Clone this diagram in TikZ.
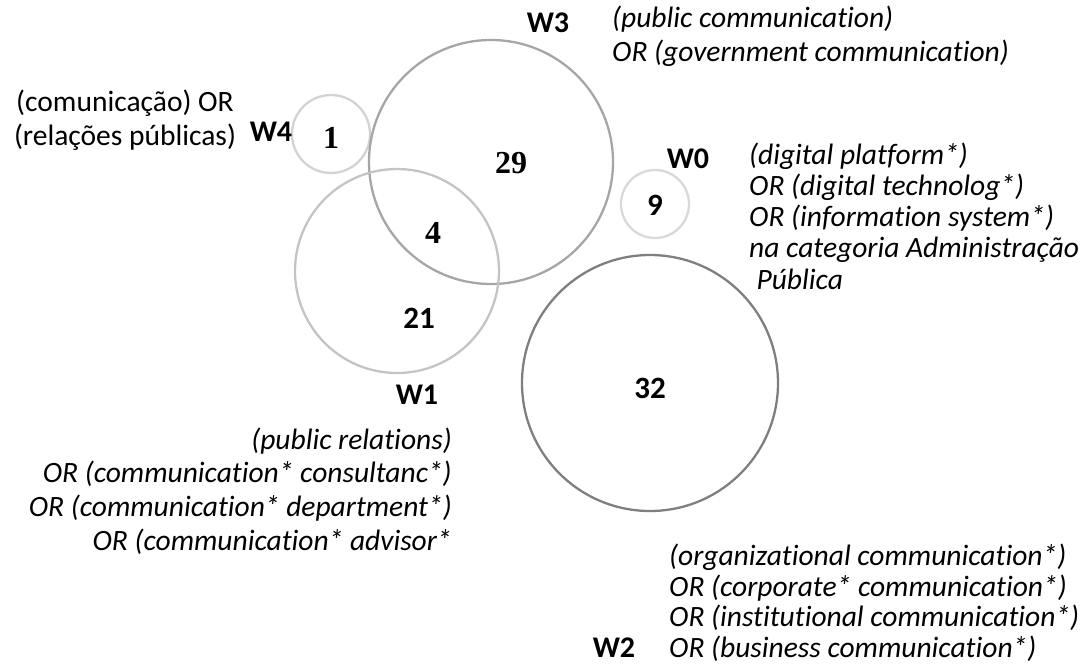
\documentclass[tikz,border=0pt]{standalone}
\usepackage{fontspec}
\setmainfont{Carlito}[Ligatures=NoCommon]
\newfontfamily\numserif{Liberation Serif}
\begin{document}
\begin{tikzpicture}[x=1pt,y=-1pt,
  ring/.style={circle,draw,line width=2.3pt,inner sep=0pt,minimum size=#1},
  wlabel/.style={anchor=base,inner sep=0pt,font=\bfseries\fontsize{30}{34}\selectfont},
  numC/.style={anchor=base,inner sep=0pt,font=\bfseries\fontsize{31}{34}\selectfont},
  numT/.style={anchor=base,inner sep=0pt,font=\numserif\bfseries\fontsize{32}{34}\selectfont},
  query/.style={inner sep=0pt,font=\itshape\fontsize{29.5}{#1}\selectfont},
]
\useasboundingbox (0,0) rectangle (1087,665);
\definecolor{g4}{HTML}{D3D3D3}
\definecolor{g3}{HTML}{A6A6A6}
\definecolor{g1}{HTML}{C4C4C4}
\definecolor{g0}{HTML}{D9D9D9}
\definecolor{g2}{HTML}{7F7F7F}
% circles
\node[ring=78pt,draw=g4] (c4) at (331,134) {};
\node[ring=244pt,draw=g3] (c3) at (491,162) {};
\node[ring=204pt,draw=g1] (c1) at (397,271) {};
\node[ring=68pt,draw=g0] (c0) at (655,204) {};
\node[ring=256pt,draw=g2] (c2) at (650,383) {};
% numbers
\node[numT] (n4) at (331,148) {1};
\node[numT] (n3) at (511,173) {29};
\node[numT] (n13) at (433,243) {4};
\node[numC] (n0) at (655,215) {9};
\node[numC] (n1) at (419,328) {21};
\node[numC] (n2) at (650,398) {32};
% W labels
\node[wlabel] (w4) at (271,141) {W4};
\node[wlabel] (w3) at (548,32) {W3};
\node[wlabel] (w0) at (688,168) {W0};
\node[wlabel] (w1) at (417,404) {W1};
\node[wlabel] (w2) at (614,657) {W2};
% query texts
\node[anchor=base,inner sep=0pt,font=\fontsize{29.5}{34}\selectfont] (q4) at (125,111)
  {\begin{tabular}[t]{@{}c@{}}(comunicação) OR\\(relações públicas)\end{tabular}};
\node[query=34,anchor=base west] (q3) at (612,27)
  {\begin{tabular}[t]{@{}l@{}}(public communication)\\OR (government communication)\end{tabular}};
\node[query=31.3,anchor=base west] (q0) at (749,164)
  {\begin{tabular}[t]{@{}l@{}}(digital platform*)\\OR (digital technolog*)\\OR (information system*)\\na categoria Administração\\\hspace{0.25em}Pública\end{tabular}};
\node[query=33.7,anchor=base east] (q1) at (452,449)
  {\begin{tabular}[t]{@{}r@{}}(public relations)\\OR (communication* consultanc*)\\OR (communication* department*)\\OR (communication* advisor*\end{tabular}};
\node[query=30.5,anchor=base west] (q2) at (669,565.5)
  {\begin{tabular}[t]{@{}l@{}}(organizational communication*)\\OR (corporate* communication*)\\OR (institutional communication*)\\OR (business communication*)\end{tabular}};
\end{tikzpicture}
\end{document}
